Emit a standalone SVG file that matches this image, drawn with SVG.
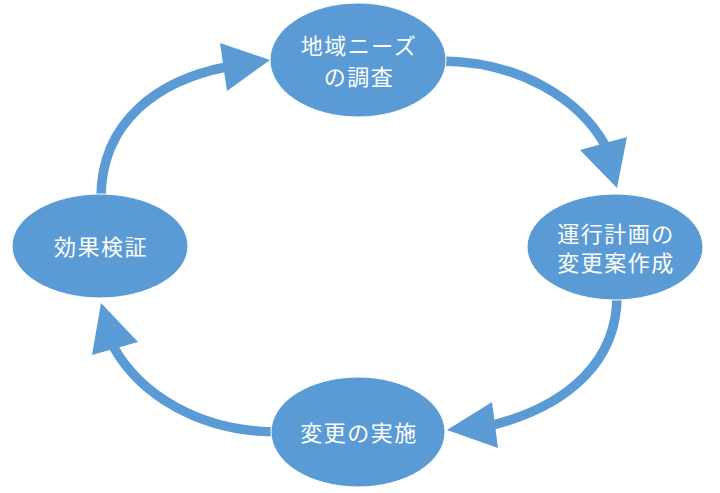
<svg xmlns="http://www.w3.org/2000/svg" width="720" height="493" viewBox="0 0 720 493">
<style>
.node{fill:#5B9BD5;stroke:#ffffff;stroke-width:1}
.lbl{fill:#ffffff;font-family:"Noto Sans CJK JP","Noto Sans",sans-serif;font-size:22px;text-anchor:middle;dominant-baseline:central;letter-spacing:1.5px}
.line{fill:none;stroke:#5B9BD5;stroke-width:9.5}
.head{fill:#5B9BD5}
</style>
<rect width="720" height="493" fill="#ffffff"/>
<g id="connectors">
<path class="line" d="M440,61 C520,61 580,100 605,145"/>
<polygon class="head" points="617,188 580,150 627,137"/>
<path class="line" d="M617,296 C617,360 570,405 493,425"/>
<polygon class="head" points="447,430 492,402 498,448"/>
<path class="line" d="M278,432 C200,432 140,395 113,346"/>
<polygon class="head" points="101,303 92,355 138,342"/>
<path class="line" d="M101,198 C101,120 160,80 226,67"/>
<polygon class="head" points="270,60 220,43 227,91"/>
</g>
<g id="node-survey">
<ellipse class="node" cx="358" cy="60" rx="88" ry="57"/>
<text class="lbl" x="359" y="44">地域ニーズ</text>
<text class="lbl" x="359" y="75">の調査</text>
</g>
<g id="node-plan">
<ellipse class="node" cx="615" cy="247" rx="88" ry="53"/>
<text class="lbl" x="616" y="232">運行計画の</text>
<text class="lbl" x="616" y="261">変更案作成</text>
</g>
<g id="node-implement">
<ellipse class="node" cx="358" cy="432" rx="87" ry="55"/>
<text class="lbl" x="359" y="431">変更の実施</text>
</g>
<g id="node-verify">
<ellipse class="node" cx="100" cy="246" rx="88" ry="52"/>
<text class="lbl" x="101" y="245">効果検証</text>
</g>
</svg>
